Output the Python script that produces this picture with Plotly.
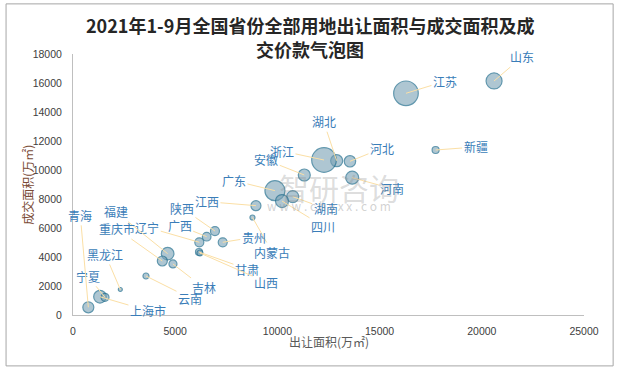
import plotly.graph_objects as go

# ---- data ----
provinces = ["山东", "江苏", "新疆", "河北", "湖北", "浙江", "河南", "安徽", "广东", "湖南",
             "四川", "江西", "内蒙古", "陕西", "广西", "辽宁", "贵州", "甘肃", "山西", "福建",
             "重庆市", "吉林", "云南", "黑龙江", "上海市", "宁夏", "青海"]
sold_area = [20600, 16290, 17740, 13550, 12900, 12280, 13660, 11315, 9880, 10750,
             10225, 8950, 8780, 6945, 6540, 6180, 7325, 6165, 6210, 4630,
             4370, 4890, 3570, 2315, 1320, 1565, 750]
deal_area = [16140, 15290, 11380, 10600, 10640, 10690, 9470, 9656, 8575, 8160,
             7860, 7540, 6725, 5790, 5400, 5015, 5015, 4345, 4275, 4230,
             3725, 3520, 2690, 1760, 1260, 1220, 530]
deal_value = [2560, 6050, 490, 1300, 1440, 6050, 1690, 1440, 4000, 1440,
              1690, 1000, 250, 810, 740, 810, 810, 490, 360, 1590,
              1000, 640, 360, 160, 1590, 640, 1210]

x_ticks = [0, 5000, 10000, 15000, 20000, 25000]
y_ticks = list(range(0, 18001, 2000))

# label offsets (pixels) relative to each bubble
label_dx = [28, 39, 40, 32, -13, -42, 40, -38, -41, 33,
            41, -49, 20, -33, -27, -52, 31, 48, 66, -52,
            -45, 31, 44, -15, 48, -17, -8]
label_dy = [-24, -12, -3, -13, -39, -9, 11, -15, -10, 12,
            25, -4, 35, -23, -11, -15, -5, 17, 29, -42,
            -32, 24, 22, -35, 14, -21, -92]

fig = go.Figure()
fig.add_trace(go.Scatter(
    x=sold_area, y=deal_area, mode="markers",
    text=provinces,
    marker=dict(size=deal_value, sizemode="area", sizeref=20,
                color="rgba(120,160,180,0.85)",
                line=dict(color="#1F6C8C", width=1.2)),
    hovertemplate="%{text}<br>出让面积: %{x}<br>成交面积: %{y}<extra></extra>",
    showlegend=False,
))

annotations = []
for name, xv, yv, dx, dy in zip(provinces, sold_area, deal_area, label_dx, label_dy):
    annotations.append(dict(
        x=xv, y=yv, xref="x", yref="y", text=name,
        showarrow=True, arrowhead=0, arrowwidth=1, arrowcolor="#FBDFA5",
        ax=dx, ay=dy, standoff=0, startstandoff=0,
        font=dict(family="Noto Sans CJK SC", size=12, color="#3A7DB8"),
    ))

# watermark
annotations.append(dict(x=0.52, y=0.49, xref="paper", yref="paper", text="智研咨询",
                        showarrow=False, font=dict(family="Noto Sans CJK SC", size=30,
                                                   color="rgba(140,140,140,0.30)")))
annotations.append(dict(x=0.50, y=0.42, xref="paper", yref="paper",
                        text="w w w . c h y x x . c o m", showarrow=False,
                        font=dict(family="Noto Sans CJK SC", size=12,
                                  color="rgba(140,140,140,0.40)")))
# title (two lines)
annotations.append(dict(x=0.464, y=1.111, xref="paper", yref="paper",
                        text="<b>2021年1-9月全国省份全部用地出让面积与成交面积及成</b>",
                        showarrow=False, yanchor="middle",
                        font=dict(family="Noto Sans CJK SC", size=18, color="#262626")))
annotations.append(dict(x=0.464, y=1.019, xref="paper", yref="paper",
                        text="<b>交价款气泡图</b>",
                        showarrow=False, yanchor="middle",
                        font=dict(family="Noto Sans CJK SC", size=18, color="#262626")))
# axis titles
annotations.append(dict(x=0.5, y=-0.143, xref="paper", yref="paper", text="出让面积(万㎡)",
                        showarrow=False, font=dict(family="Noto Sans CJK SC", size=12,
                                                   color="#595959")))
annotations.append(dict(x=-0.11, y=0.5, xref="paper", yref="paper", text="成交面积(万㎡)",
                        textangle=-90, showarrow=False,
                        font=dict(family="Noto Sans CJK SC", size=12, color="#7A4A35")))

fig.update_layout(
    width=621, height=369,
    margin=dict(l=73, r=37, t=54, b=54),
    paper_bgcolor="white", plot_bgcolor="white",
    xaxis=dict(range=[0, 25000], tickvals=x_ticks, tickformat="d", showgrid=False,
               zeroline=False, showline=True, linecolor="#BFBFBF", linewidth=1, ticks="",
               ticklabelstandoff=6,
               tickfont=dict(family="Liberation Sans", size=10.5, color="#404040")),
    yaxis=dict(range=[0, 18000], tickvals=y_ticks, tickformat="d", showgrid=False,
               zeroline=False, showline=True, linecolor="#BFBFBF", linewidth=1, ticks="",
               ticklabelstandoff=8,
               tickfont=dict(family="Liberation Sans", size=10.5, color="#404040")),
    annotations=annotations,
    shapes=[dict(type="rect", xref="paper", yref="paper",
                 x0=-0.131, x1=1.057, y0=-0.195, y1=1.192,
                 line=dict(color="#A6A6A6", width=1), fillcolor="rgba(0,0,0,0)",
                 layer="below")],
)

fig.write_html("out.html", config={"displayModeBar": False},
               post_script="document.body.style.margin='0';document.body.style.overflow='hidden';")
